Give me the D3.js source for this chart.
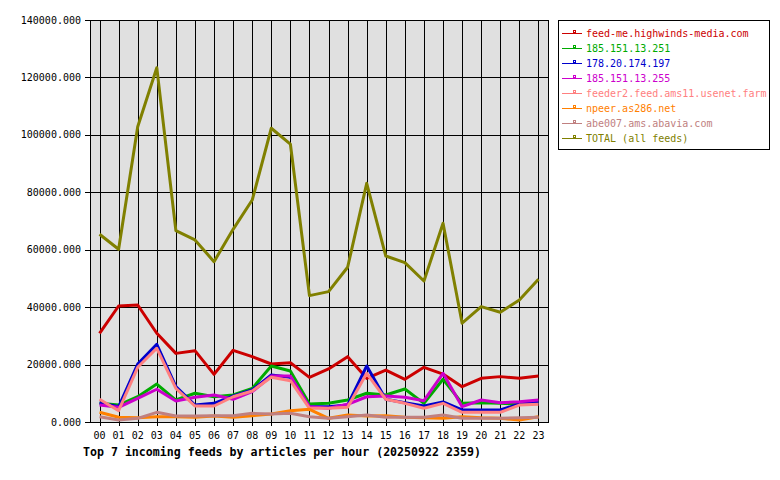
<!DOCTYPE html>
<html><head><meta charset="utf-8">
<script src="https://cdn.jsdelivr.net/npm/d3@7"></script>
<style>body{margin:0;background:#fff}svg{display:block}text{font-family:"DejaVu Sans Mono",monospace}</style>
</head><body><svg id="c" width="780" height="480"></svg>
<script>
const hours = ["00","01","02","03","04","05","06","07","08","09","10","11","12","13","14","15","16","17","18","19","20","21","22","23"];
const yTicks = [0,20000,40000,60000,80000,100000,120000,140000];
const seriesNames = ["feed-me.highwinds-media.com","185.151.13.251","178.20.174.197","185.151.13.255","feeder2.feed.ams11.usenet.farm","npeer.as286.net","abe007.ams.abavia.com","TOTAL (all feeds)"];
const seriesColors = ["#cc0000","#00aa00","#0000cc","#cc00cc","#ff8080","#ff8000","#c08080","#808000"];
const feedMe   = [30900,40400,40750,30900,23900,24850,16600,24970,22750,20200,20650,15550,18460,22750,15200,18100,14870,19050,16700,12300,15200,15800,15200,16000];
const ip251    = [6500,5900,8800,13200,7650,10000,8800,9400,11700,19500,17750,6270,6500,7660,10000,9400,11500,6500,14870,6500,6700,6500,6270,7070];
const ip197    = [6700,5300,20200,27060,12300,5900,6500,9060,11150,16370,15570,5330,5330,5900,19500,7900,6720,5570,7000,4180,4180,4180,6270,6860];
const ip255    = [5900,5100,8250,11400,7300,8600,9400,7900,10550,16000,16000,5330,4770,6160,8800,9060,8600,7420,16950,5330,7660,6720,7070,7660];
const feeder2  = [7900,3940,19050,25670,11740,5570,5570,8800,10800,15570,14400,4770,4770,5100,16950,7900,6500,4770,6500,3370,3370,3370,5900,6160];
const npeer    = [3370,1630,1500,1860,1860,1630,2090,1630,2200,2790,3940,4420,1280,2440,2090,2200,1630,1500,1280,1860,1500,1300,700,1860];
const abe007   = [1860,700,1280,3370,2090,2090,2200,2200,3020,2790,3020,1860,1280,1860,2440,1630,1630,1630,2440,1280,1280,1280,1500,1630];
const total    = [65400,60150,102850,123400,66630,63400,55840,67100,77300,102300,96800,44000,45400,53900,83100,57800,55500,49100,69200,34400,40200,38200,42500,49700];
const titleText = "Top 7 incoming feeds by articles per hour (20250922 2359)";
const seriesValues = [feedMe, ip251, ip197, ip255, feeder2, npeer, abe007, total];

const svg = d3.select("#c");
const L = 90, R = 548, T = 20, B = 422;
const x = d3.scalePoint().domain(hours).range([L, R]).padding(0.5);
const y = d3.scaleLinear().domain([0, 140000]).range([B, T]);

svg.append("rect").attr("x", L).attr("y", T).attr("width", R - L).attr("height", B - T).attr("fill", "#e0e0e0");

const g = svg.append("g").attr("shape-rendering", "crispEdges");
// horizontal grid
g.selectAll("line.h").data(yTicks).join("line")
  .attr("x1", L - 5).attr("x2", R).attr("y1", d => Math.round(y(d)) + 0.5).attr("y2", d => Math.round(y(d)) + 0.5)
  .attr("stroke", "#000").attr("stroke-width", 1);
// vertical grid
g.selectAll("line.v").data(hours).join("line")
  .attr("x1", d => Math.round(x(d)) + 0.5).attr("x2", d => Math.round(x(d)) + 0.5).attr("y1", T).attr("y2", B + 4)
  .attr("stroke", "#000").attr("stroke-width", 1);
g.append("rect").attr("x", L + 0.5).attr("y", T + 0.5).attr("width", R - L).attr("height", B - T)
  .attr("fill", "none").attr("stroke", "#000");

// y labels
svg.selectAll("text.yl").data(yTicks).join("text")
  .attr("x", 81).attr("y", d => y(d)).attr("dy", "0.35em").attr("text-anchor", "end")
  .attr("font-size", 10).attr("fill", "#000").text(d => d3.format(".3f")(d));
// x labels
svg.selectAll("text.xl").data(hours).join("text")
  .attr("x", d => x(d)).attr("y", 435).attr("dy", "0.35em").attr("text-anchor", "middle")
  .attr("font-size", 10).attr("fill", "#000").text(d => d);
// title
svg.append("text").attr("x", 83).attr("y", 452).attr("dy", "0.35em")
  .attr("font-size", 11.6).attr("font-weight", "bold").attr("fill", "#000").text(titleText);

// lines
const line = d3.line().x((d, i) => x(hours[i])).y(d => y(d));
seriesValues.forEach((vals, i) => {
  svg.append("path").datum(vals).attr("d", line).attr("fill", "none")
    .attr("stroke", seriesColors[i]).attr("stroke-width", 3).attr("stroke-linejoin", "round");
});

// legend
const lg = svg.append("g");
lg.append("rect").attr("x", 558.5).attr("y", 20.5).attr("width", 211).attr("height", 129)
  .attr("fill", "#fff").attr("stroke", "#000").attr("shape-rendering", "crispEdges");
seriesNames.forEach((name, i) => {
  const yy = 33 + i * 15;
  lg.append("line").attr("x1", 562).attr("x2", 582).attr("y1", yy + 0.5).attr("y2", yy + 0.5)
    .attr("stroke", seriesColors[i]).attr("stroke-width", 1).attr("shape-rendering", "crispEdges");
  lg.append("rect").attr("x", 573.5).attr("y", yy - 2.5).attr("width", 2).attr("height", 2)
    .attr("fill", "none").attr("stroke", seriesColors[i]).attr("shape-rendering", "crispEdges");
  lg.append("text").attr("x", 586).attr("y", yy).attr("dy", "0.35em").attr("font-size", 10)
    .attr("fill", seriesColors[i]).text(name);
});
</script></body></html>
